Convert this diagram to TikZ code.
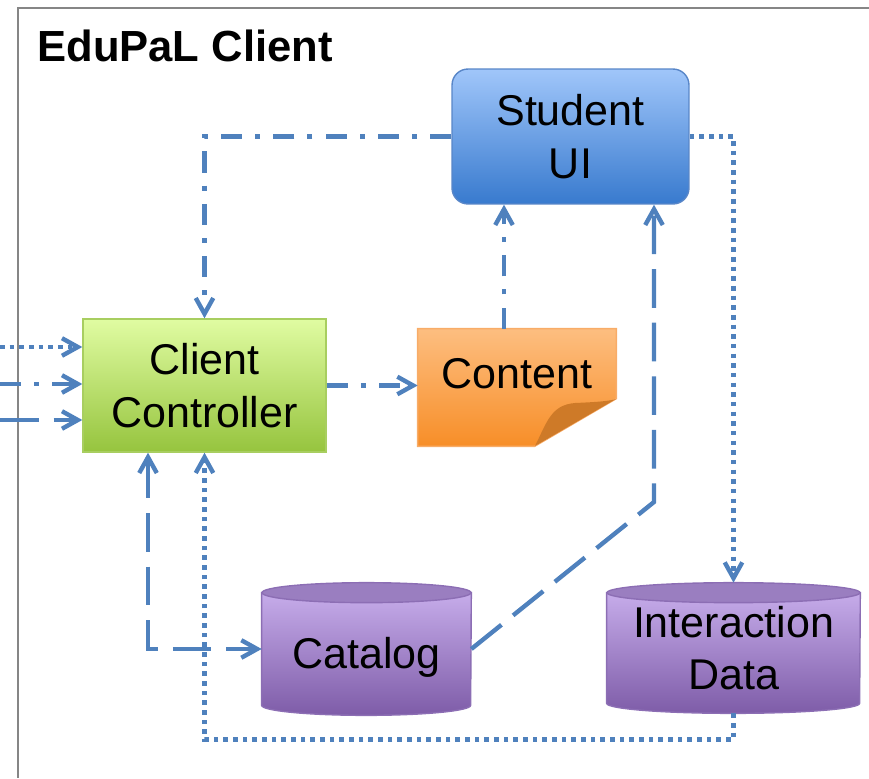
\documentclass[tikz,border=0pt]{standalone}
\usepackage{fontspec}
\setmainfont{Liberation Sans}
\usepackage{tikz}
\usetikzlibrary{
  arrows.meta,
  calc,
  backgrounds
}
\definecolor{linkcolor}{RGB}{79, 129, 189}
\definecolor{framecolor}{RGB}{134, 134, 134}
\definecolor{uitop}{RGB}{160, 198, 250}
\definecolor{uibottom}{RGB}{56, 122, 206}
\definecolor{uiborder}{RGB}{88, 134, 200}
\definecolor{cctop}{RGB}{224, 252, 162}
\definecolor{ccbottom}{RGB}{150, 196, 62}
\definecolor{ccborder}{RGB}{168, 206, 96}
\definecolor{contenttop}{RGB}{253, 190, 128}
\definecolor{contentbottom}{RGB}{247, 142, 40}
\definecolor{contentborder}{RGB}{248, 172, 104}
\definecolor{foldcolor}{RGB}{206, 122, 40}
\definecolor{dbtop}{RGB}{198, 172, 234}
\definecolor{dbbottom}{RGB}{126, 92, 168}
\definecolor{dbcap}{RGB}{154, 126, 192}
\definecolor{dbborder}{RGB}{140, 110, 180}
\tikzset{
blocktext/.style={
  align=center,
  font=\fontsize{24.5}{30}\selectfont,
  text=black
},
uiblock/.style={
  draw=uiborder,
  line width=0.8pt,
  rounded corners=0.32cm,
  top color=uitop,
  bottom color=uibottom,
  minimum width=4.74cm,
  minimum height=2.7cm,
  blocktext
},
ctrlblock/.style={
  draw=ccborder,
  line width=0.8pt,
  top color=cctop,
  bottom color=ccbottom,
  minimum width=4.86cm,
  minimum height=2.66cm,
  blocktext
},
noteblock/.style={
  inner sep=0pt,
  minimum width=3.96cm,
  text height=1.18cm,
  text depth=1.16cm,
  blocktext
},
dbblock/.style={
  inner sep=0pt,
  blocktext
},
noteshape/.style={
  draw=contentborder,
  line width=0.8pt,
  top color=contenttop,
  bottom color=contentbottom
},
foldshape/.style={
  fill=foldcolor
},
dbbody/.style={
  draw=dbborder,
  line width=0.8pt,
  top color=dbtop,
  bottom color=dbbottom
},
dbcapshape/.style={
  draw=dbborder,
  line width=0.8pt,
  fill=dbcap
},
titlelabel/.style={
  font=\bfseries\fontsize{24.8}{28}\selectfont,
  inner sep=0pt,
  anchor=west
},
arrow/.style={
  >={Straight Barb[length=9pt,width=10pt]},
  ->,
  line width=2.5pt,
  draw=linkcolor
},
dottedarrow/.style={
  arrow,
  dash pattern=on 2.6pt off 2.9pt
},
dotdasharrow/.style={
  arrow,
  dash pattern=on 12pt off 7.5pt on 2.8pt off 7.5pt
},
longdasharrow/.style={
  arrow,
  dash pattern=on 22pt off 8.5pt
}
}
% cylinder body and lid behind a named node: #1 node, #2 half width
\newcommand{\dbdraw}[2]{%
  \path[dbbody] ($(#1.north west)+(0cm,-0.2cm)$) -- ($(#1.south west)+(0cm,0.2cm)$)
    arc[start angle=180, end angle=360, x radius=#2, y radius=0.2cm]
    -- ($(#1.north east)+(0cm,-0.2cm)$) -- cycle;
  \path[dbcapshape] ($(#1.north)+(0cm,-0.2cm)$) ellipse[x radius=#2, y radius=0.2cm];
}

\begin{document}
\begin{tikzpicture}[x=0.02cm, y=-0.02cm]
  \useasboundingbox (0,0) rectangle (869,778);
  \draw[framecolor, line width=1.2pt] (869,8) -- (18,8) -- (18,778);
  \node[titlelabel] (title) at (37,46) {EduPaL Client};

  \node[uiblock] (ui) at (570.5,136.5) {Student\\UI};
  \node[ctrlblock] (cc) at (204.5,385.5) {Client\\Controller};
  \node[noteblock] (content) at (517,387.5) {Content};
  \node[dbblock, minimum width=4.18cm, text height=1.7cm, text depth=0.94cm] (cat) at (366.5,649) {Catalog};
  \node[dbblock, minimum width=5.06cm, minimum height=2.6cm] (idata) at (733.5,648) {Interaction\\Data};

  \begin{scope}[on background layer]
    \path[noteshape] (content.north west) -- (content.north east)
      -- ($(content.north east)+(0cm,-1.4cm)$)
      -- ($(content.south west)+(2.34cm,0cm)$) -- (content.south west) -- cycle;
    \path[foldshape] (535,446) .. controls (547,422) and (551,405) .. (575,403)
      .. controls (598,402) and (610,401) .. (616,399) -- cycle;
    \dbdraw{cat}{2.09cm}
    \dbdraw{idata}{2.53cm}
  \end{scope}

  % inputs from outside the client
  \coordinate (in1) at (0,347);
  \coordinate (in2) at (0,384);
  \coordinate (in3) at (0,420);
  \draw[dottedarrow] (in1) -- (in1 -| cc.west);
  \draw[dotdasharrow] (in2) -- (in2 -| cc.west);
  \draw[longdasharrow] (in3) -- (in3 -| cc.west);

  \draw[dotdasharrow] (ui.west) -| (cc.north);
  \draw[dotdasharrow] (cc.east) -- (cc.east -| content.west);
  \draw[dotdasharrow] ([xshift=-0.26cm]content.north) -- ([xshift=-0.26cm]content.north |- ui.south);

  \coordinate (bend) at (654,502);
  \draw[longdasharrow] (cat.east) -- (bend) -- (bend |- ui.south);
  \draw[longdasharrow, <->] ([xshift=-1.13cm]cc.south) |- (cat.west);

  \draw[dottedarrow] (ui.east) -| (idata.north);
  \draw[dottedarrow] (idata.south) -- ++(0cm,-0.52cm) -| (cc.south);
\end{tikzpicture}
\end{document}
